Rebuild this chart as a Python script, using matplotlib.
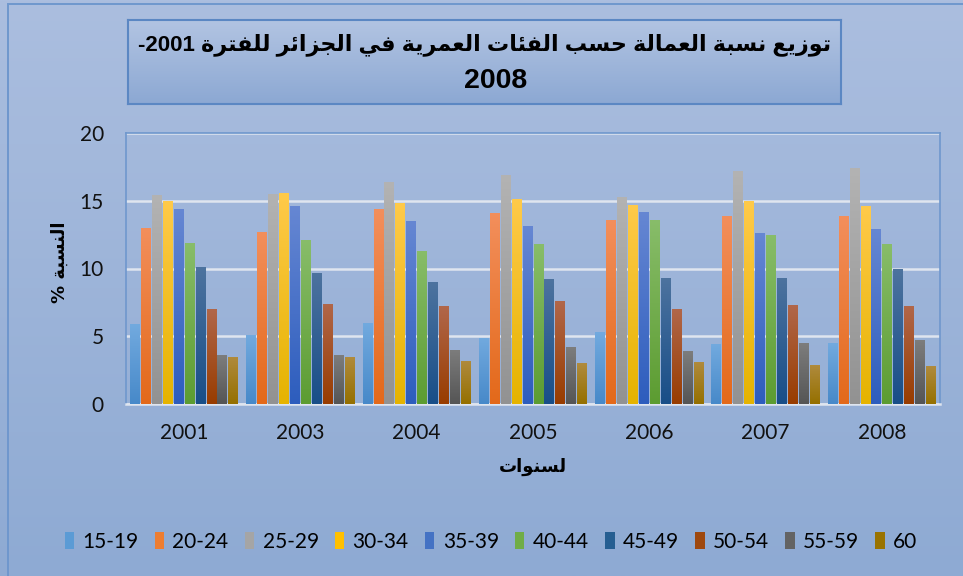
import numpy as np
import matplotlib
matplotlib.use("Agg")
import matplotlib.pyplot as plt
from matplotlib.colors import LinearSegmentedColormap
from matplotlib.patches import Patch, Rectangle

# ---- data ----
YEARS = ["2001", "2003", "2004", "2005", "2006", "2007", "2008"]
GROUPS = ["15-19", "20-24", "25-29", "30-34", "35-39",
          "40-44", "45-49", "50-54", "55-59", "60"]
V_2001 = [5.9, 13.0, 15.4, 15.0, 14.4, 11.9, 10.1, 7.0, 3.6, 3.5]
V_2003 = [5.1, 12.7, 15.5, 15.6, 14.6, 12.1, 9.7, 7.4, 3.6, 3.5]
V_2004 = [6.0, 14.4, 16.4, 14.8, 13.5, 11.3, 9.0, 7.2, 4.0, 3.2]
V_2005 = [4.9, 14.1, 16.9, 15.1, 13.1, 11.8, 9.2, 7.6, 4.2, 3.0]
V_2006 = [5.3, 13.6, 15.3, 14.7, 14.2, 13.6, 9.3, 7.0, 3.9, 3.1]
V_2007 = [4.4, 13.9, 17.2, 15.0, 12.6, 12.5, 9.3, 7.3, 4.5, 2.9]
V_2008 = [4.5, 13.9, 17.4, 14.6, 12.9, 11.8, 10.0, 7.2, 4.7, 2.8]

TITLE_AR = "توزيع نسبة العمالة حسب الفئات العمرية في الجزائر للفترة"
YLABEL_AR = "النسبة"
XLABEL_AR = "لسنوات"

# light (top) / dark (bottom) ends of each bar gradient
TOPS = ["#72aadf", "#f38f5c", "#b3b3b3", "#ffca4a", "#6687d3",
        "#88bd6a", "#4d739f", "#b1674a", "#7d7d7d", "#b08b3e"]
BOTS = ["#4789c9", "#e3691a", "#929292", "#e5b300", "#2d5dbd",
        "#5c9c31", "#184e88", "#983c00", "#555555", "#957000"]
BASE = ["#5B9BD5", "#ED7D31", "#A5A5A5", "#FFC000", "#4472C4",
        "#70AD47", "#255E91", "#9E480E", "#636363", "#997300"]

# ---- minimal arabic shaping (matplotlib 3.10 has no text layout engine) ----
FORMS = {  # isolated, final, initial, medial
    "ا": (0xFE8D, 0xFE8E, None, None), "ب": (0xFE8F, 0xFE90, 0xFE91, 0xFE92),
    "ة": (0xFE93, 0xFE94, None, None), "ت": (0xFE95, 0xFE96, 0xFE97, 0xFE98),
    "ج": (0xFE9D, 0xFE9E, 0xFE9F, 0xFEA0), "ح": (0xFEA1, 0xFEA2, 0xFEA3, 0xFEA4),
    "ر": (0xFEAD, 0xFEAE, None, None), "ز": (0xFEAF, 0xFEB0, None, None),
    "س": (0xFEB1, 0xFEB2, 0xFEB3, 0xFEB4), "ع": (0xFEC9, 0xFECA, 0xFECB, 0xFECC),
    "ف": (0xFED1, 0xFED2, 0xFED3, 0xFED4), "ل": (0xFEDD, 0xFEDE, 0xFEDF, 0xFEE0),
    "م": (0xFEE1, 0xFEE2, 0xFEE3, 0xFEE4), "ن": (0xFEE5, 0xFEE6, 0xFEE7, 0xFEE8),
    "و": (0xFEED, 0xFEEE, None, None), "ي": (0xFEF1, 0xFEF2, 0xFEF3, 0xFEF4),
    "ئ": (0xFE89, 0xFE8A, 0xFE8B, 0xFE8C),
}


def dual(ch):
    return ch in FORMS and FORMS[ch][2] is not None


def shape_rtl(s):
    out = []
    for i, ch in enumerate(s):
        if ch not in FORMS:
            out.append(ch)
            continue
        prev = s[i - 1] if i > 0 else ""
        nxt = s[i + 1] if i + 1 < len(s) else ""
        jp = dual(prev)
        jn = dual(ch) and nxt in FORMS
        iso, fin, ini, med = FORMS[ch]
        if jp and jn:
            code = med
        elif jp:
            code = fin
        elif jn:
            code = ini
        else:
            code = iso
        out.append(chr(code))
    return "".join(out)[::-1]


# ---- figure ----
W, H = 963, 576
fig = plt.figure(figsize=(W / 100, H / 100), dpi=100)
grad = np.linspace(0, 1, 256)[:, None]   # row 0 = top with default origin

bg = fig.add_axes([0, 0, 1, 1], zorder=-10)
bg_cmap = LinearSegmentedColormap.from_list("bg", ["#abbedf", "#8eaad3"])
bg.imshow(grad, cmap=bg_cmap, aspect="auto", extent=[0, 1, 0, 1])
bg.set_xlim(0, 1)
bg.set_ylim(0, 1)
bg.axis("off")
bg.add_patch(Rectangle((8 / W, -0.02), 1.1, 1 - 4 / H + 0.02, fill=False,
                       ec="#6f97cd", lw=1.4, transform=bg.transAxes))

# title box
tb = fig.add_axes([128 / W, 1 - 104 / H, (841 - 128) / W, (104 - 20) / H])
tb_cmap = LinearSegmentedColormap.from_list("tb", ["#b2c4e2", "#8ca8d3"])
tb.imshow(grad, cmap=tb_cmap, aspect="auto", extent=[0, 1, 0, 1])
tb.set_xlim(0, 1)
tb.set_ylim(0, 1)
tb.set_xticks([])
tb.set_yticks([])
for s in tb.spines.values():
    s.set_color("#5b87c3")
    s.set_linewidth(1.5)

tfont = dict(family=["Liberation Sans", "DejaVu Sans"], weight="bold", color="black")
t1 = tb.text(0.5, 1 - 25 / 84, "-2001 " + shape_rtl(TITLE_AR), ha="center", va="center",
             fontsize=20, transform=tb.transAxes, **tfont)
fig.canvas.draw()
w = t1.get_window_extent().width
t1.set_fontsize(20 * 694 / w)
tb.text(0.515, 1 - 61 / 84, "2008", ha="center", va="center", fontsize=20.5,
        transform=tb.transAxes, **tfont)

# plot area
ax = fig.add_axes([126 / W, 1 - 404 / H, (940 - 126) / W, (404 - 133) / H])
ax.patch.set_alpha(0)

series = [V_2001, V_2003, V_2004, V_2005, V_2006, V_2007, V_2008]
vals = np.array(series)        # years x groups
x = np.arange(len(YEARS))
slot = 0.094
for j, g in enumerate(GROUPS):
    bars = ax.bar(x + (j - 4.5) * slot, vals[:, j], width=slot * 0.9,
                  color=BASE[j], zorder=3, label=g)
    cm = LinearSegmentedColormap.from_list(g, [BOTS[j], TOPS[j]])
    for r in bars:
        x0, h = r.get_x(), r.get_height()
        im = ax.imshow(grad[::-1], cmap=cm, aspect="auto", zorder=4,
                       extent=[x0, x0 + r.get_width(), 0, h])
        im.set_clip_path(r)

ax.set_xlim(-0.5, len(YEARS) - 0.5)
ax.set_ylim(0, 20)
ax.set_yticks([0, 5, 10, 15, 20])
ax.set_xticks(x, YEARS)
ax.grid(axis="y", color="#dfe5ef", lw=1.8, zorder=1)
ax.set_axisbelow(True)
ax.tick_params(length=0, labelsize=15, labelcolor="#111111")
ax.tick_params(axis="y", pad=16)
ax.tick_params(axis="x", pad=14)
for lbl in ax.get_xticklabels() + ax.get_yticklabels():
    lbl.set_family("Lato")
for s in ("left", "top", "right"):
    ax.spines[s].set_color("#6f97cd")
    ax.spines[s].set_linewidth(1.2)
ax.spines["bottom"].set_color("#dfe5ef")
ax.spines["bottom"].set_linewidth(1.8)

afont = dict(family=["DejaVu Sans"], weight="bold", fontsize=13, color="black")
fig.text(533 / W, 1 - 467 / H, shape_rtl(XLABEL_AR), ha="center", va="center", **afont)
fig.text(60 / W, 1 - 262 / H, "% " + shape_rtl(YLABEL_AR), ha="center", va="center",
         rotation=90, **afont)

handles = [Patch(facecolor=BASE[j], edgecolor="none", label=g) for j, g in enumerate(GROUPS)]
fig.legend(handles=handles, loc="center", bbox_to_anchor=(491 / W, 1 - 542 / H),
           ncol=10, frameon=False, handlelength=0.45, handleheight=0.85,
           handletextpad=0.4, columnspacing=0.78,
           prop=dict(family="Lato", size=15))

fig.savefig("out.png", dpi=100)
